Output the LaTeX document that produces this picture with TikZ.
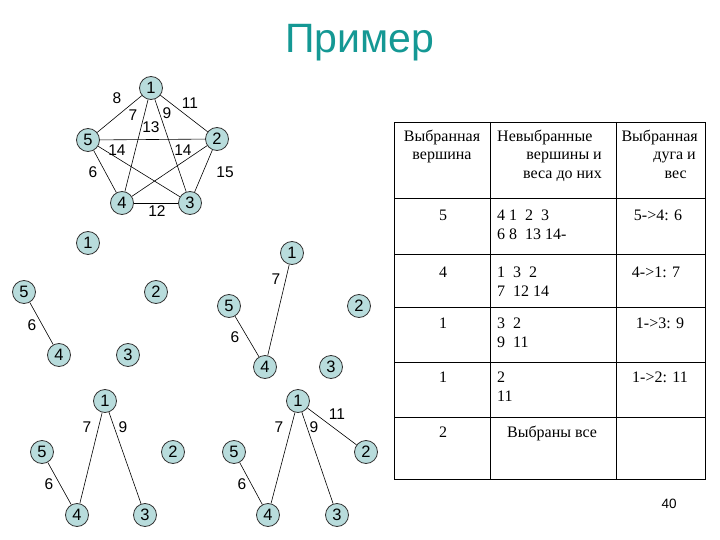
\documentclass[tikz,border=0pt]{standalone}
\usepackage{fontspec}
\setmainfont{Liberation Serif}
\newfontfamily\arialf{Liberation Sans}
\usepackage{tikz}
\definecolor{vfill}{RGB}{184,220,220}
\definecolor{titlecol}{RGB}{20,152,148}

\begin{document}
\begin{tikzpicture}[x=1pt,y=-1pt,
	vertex/.style={circle,draw=black!80,line width=0.8pt,fill=vfill,minimum size=23pt,inner sep=0pt,font=\arialf\fontsize{16.5}{16.5}\selectfont},
	weight/.style={inner sep=0pt,font=\arialf\fontsize{15.5}{15.5}\selectfont},
	edge/.style={line width=0.6pt},
	cell/.style={inner sep=0pt,font=\fontsize{16}{19}\selectfont}]
	\useasboundingbox (0,0) rectangle (720,540);
	
	%title
	\node[anchor=base,text=titlecol,font=\arialf\fontsize{41}{41}\selectfont] (title) at (360,53) {Пример};
	
	%graph 1
	\node[vertex] (a1) at (151,88) {1};
	\node[vertex] (a2) at (217,139) {2};
	\node[vertex] (a3) at (190,203) {3};
	\node[vertex] (a4) at (122,203) {4};
	\node[vertex] (a5) at (88,140) {5};
	\draw[edge] (a1)--(a5);
	\draw[edge] (a1)--(a2);
	\draw[edge] (a1)--(a4);
	\draw[edge] (a1)--(a3);
	\draw[edge] (a5)--(a2);
	\draw[edge] (a5)--(a3);
	\draw[edge] (a2)--(a4);
	\draw[edge] (a5)--(a4);
	\draw[edge] (a2)--(a3);
	\draw[edge] (a4)--(a3);
	\node[weight] (w15) at (117,98) {8};
	\node[weight] (w14) at (133,115) {7};
	\node[weight] (w52) at (151,127) {13};
	\node[weight] (w13) at (167,113) {9};
	\node[weight] (w12) at (190,103) {11};
	\node[weight] (w53) at (117,150) {14};
	\node[weight] (w24) at (183,150) {14};
	\node[weight] (w54) at (93,172) {6};
	\node[weight] (w23) at (225,172) {15};
	\node[weight] (w43) at (157,211) {12};
	
	%graph 2
	\node[vertex] (b1) at (88,243) {1};
	\node[vertex] (b2) at (156,292) {2};
	\node[vertex] (b3) at (128,355) {3};
	\node[vertex] (b4) at (59,355) {4};
	\node[vertex] (b5) at (24,292) {5};
	\draw[edge] (b5)--(b4);
	\node[weight] (v54) at (32,325) {6};
	
	%graph 3
	\node[vertex] (c1) at (292,253) {1};
	\node[vertex] (c2) at (359,306) {2};
	\node[vertex] (c3) at (331,367) {3};
	\node[vertex] (c4) at (265,367) {4};
	\node[vertex] (c5) at (229,306) {5};
	\draw[edge] (c5)--(c4);
	\draw[edge] (c1)--(c4);
	\node[weight] (u54) at (235,337) {6};
	\node[weight] (u14) at (276,279) {7};
	
	%graph 4
	\node[vertex] (d1) at (105,401) {1};
	\node[vertex] (d2) at (173,452) {2};
	\node[vertex] (d3) at (145,515) {3};
	\node[vertex] (d4) at (77,515) {4};
	\node[vertex] (d5) at (42,452) {5};
	\draw[edge] (d5)--(d4);
	\draw[edge] (d1)--(d4);
	\draw[edge] (d1)--(d3);
	\node[weight] (t54) at (49,484) {6};
	\node[weight] (t14) at (87,427) {7};
	\node[weight] (t13) at (123,427) {9};
	
	%graph 5
	\node[vertex] (e1) at (298,401) {1};
	\node[vertex] (e2) at (366,452) {2};
	\node[vertex] (e3) at (337,515) {3};
	\node[vertex] (e4) at (268,515) {4};
	\node[vertex] (e5) at (234,452) {5};
	\draw[edge] (e5)--(e4);
	\draw[edge] (e1)--(e4);
	\draw[edge] (e1)--(e3);
	\draw[edge] (e1)--(e2);
	\node[weight] (s54) at (242,484) {6};
	\node[weight] (s14) at (279,427) {7};
	\node[weight] (s13) at (314,427) {9};
	\node[weight] (s12) at (337,414) {11};
	
	%table
	\draw[line width=0.7pt] (394,122) rectangle (705,479);
	\draw[line width=0.7pt] (490,122)--(490,479);
	\draw[line width=0.7pt] (616,122)--(616,479);
	\foreach \y in {198,254,307,362,417}
		\draw[line width=0.7pt] (394,\y)--(705,\y);
	%
	\node[cell,anchor=base] (h1a) at (442,142) {Выбранная};
	\node[cell,anchor=base] (h1b) at (442,160) {вершина};
	\node[cell,anchor=base west] (h2a) at (497,142) {Невыбранные};
	\node[cell,anchor=base east] (h2b) at (602,160) {вершины и};
	\node[cell,anchor=base east] (h2c) at (602,179) {веса до них};
	\node[cell,anchor=base east] (h3a) at (698,142) {Выбранная};
	\node[cell,anchor=base east] (h3b) at (696,160) {дуга и};
	\node[cell,anchor=base east] (h3c) at (687,179) {вес};
	%
	\node[cell,anchor=base] (r1a) at (443,221) {5};
	\node[cell,anchor=base west] (r1b) at (497,221) {4\ 1\ \ 2\ \ 3};
	\node[cell,anchor=base west] (r1c) at (497,240) {6\ 8\ \ 13 14-};
	\node[cell,anchor=base] (r1d) at (658,221) {5->4: 6};
	%
	\node[cell,anchor=base] (r2a) at (443,277) {4};
	\node[cell,anchor=base west] (r2b) at (497,277) {1\ \ 3\ \ 2};
	\node[cell,anchor=base west] (r2c) at (497,296) {7\ \ 12 14};
	\node[cell,anchor=base] (r2d) at (656,277) {4->1: 7};
	%
	\node[cell,anchor=base] (r3a) at (443,328) {1};
	\node[cell,anchor=base west] (r3b) at (497,328) {3\ \ 2};
	\node[cell,anchor=base west] (r3c) at (497,347) {9\ \ 11};
	\node[cell,anchor=base] (r3d) at (660,328) {1->3: 9};
	%
	\node[cell,anchor=base] (r4a) at (443,382) {1};
	\node[cell,anchor=base west] (r4b) at (497,382) {2};
	\node[cell,anchor=base west] (r4c) at (497,401) {11};
	\node[cell,anchor=base] (r4d) at (660,382) {1->2: 11};
	%
	\node[cell,anchor=base] (r5a) at (443,437) {2};
	\node[cell,anchor=base] (r5b) at (552,437) {Выбраны все};
	
	%page number
	\node[font=\arialf\fontsize{13.5}{13.5}\selectfont] (page) at (669,504) {40};
\end{tikzpicture}
\end{document}
